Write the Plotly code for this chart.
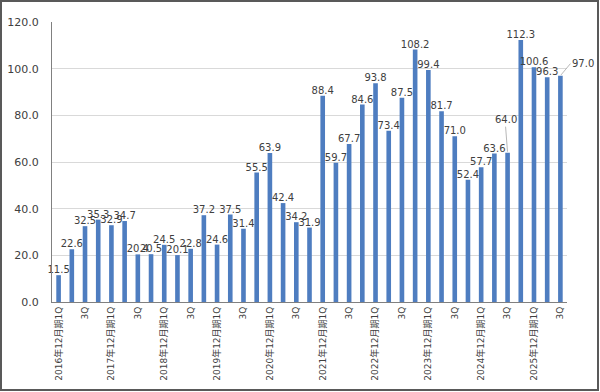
import plotly.graph_objects as go

years = [2016, 2017, 2018, 2019, 2020, 2021, 2022, 2023, 2024, 2025]
quarters = ["1Q", "2Q", "3Q", "4Q"]
values = [11.5, 22.6, 32.5, 35.3,
          32.9, 34.7, 20.4, 20.5,
          24.5, 20.1, 22.8, 37.2,
          24.6, 37.5, 31.4, 55.5,
          63.9, 42.4, 34.2, 31.9,
          88.4, 59.7, 67.7, 84.6,
          93.8, 73.4, 87.5, 108.2,
          99.4, 81.7, 71.0, 52.4,
          57.7, 63.6, 64.0, 112.3,
          100.6, 96.3, 97.0]

categories = []
tick_text = []
for y in years:
    for q in quarters:
        categories.append(f"{y}年12月期{q}")
        if q == "1Q":
            tick_text.append(f"{y}年12月期1Q")
        elif q == "3Q":
            tick_text.append("3Q")
        else:
            tick_text.append("")
categories = categories[:len(values)]
tick_text = tick_text[:len(values)]

# labels drawn with a leader line (index -> pixel offset of the label)
leader_labels = {34: (-2, -26), 38: (10, -12)}

labels = [("" if i in leader_labels else f"{v:.1f}") for i, v in enumerate(values)]

fig = go.Figure(go.Bar(
    x=categories, y=values,
    marker=dict(color="#4E7DC0", line=dict(width=0)),
    text=labels,
    textposition="outside",
    constraintext="none",
    textfont=dict(family="DejaVu Sans", size=10, color="#404040"),
    cliponaxis=False,
))

annotations = []
for i, (dx, dy) in leader_labels.items():
    annotations.append(dict(
        x=categories[i], y=values[i], xref="x", yref="y",
        text=f"{values[i]:.1f}", showarrow=True, arrowhead=0, arrowwidth=0.8,
        arrowcolor="#A6A6A6", ax=dx, ay=dy, standoff=1,
        xanchor="left" if dx > 0 else "center",
        yanchor="bottom" if dx <= 0 else "middle",
        font=dict(family="DejaVu Sans", size=10, color="#404040"),
    ))

fig.update_layout(
    width=600, height=392,
    margin=dict(l=52, r=33, t=22, b=90, autoexpand=False),
    paper_bgcolor="white", plot_bgcolor="white",
    bargap=0.65,
    showlegend=False,
    font=dict(family="DejaVu Sans, Noto Sans CJK JP", color="#404040"),
    xaxis=dict(
        tickmode="array", tickvals=categories, ticktext=tick_text,
        range=[-0.5, len(values) - 0.5],
        tickangle=-90, tickfont=dict(size=9, family="DejaVu Sans, Noto Sans CJK JP", color="#404040"),
        showline=True, linecolor="#808080", linewidth=1, showgrid=False,
        ticks="", automargin=False,
    ),
    yaxis=dict(
        range=[0, 120], dtick=20, tickformat=".1f",
        tickfont=dict(size=11, color="#404040"),
        showgrid=True, gridcolor="#D9D9D9", gridwidth=1,
        showline=True, linecolor="#808080", linewidth=1,
        zeroline=False, ticks="", ticklabelstandoff=10, automargin=False,
    ),
    annotations=annotations,
    shapes=[dict(type="rect", xref="paper", yref="paper",
                 x0=-51/515, x1=1 + 31/515, y0=-88/280, y1=1 + 21/280,
                 line=dict(color="#595959", width=2), fillcolor="rgba(0,0,0,0)")],
)

fig.write_html("out.html", config={"displayModeBar": False},
               post_script="document.body.style.margin='0';document.body.style.padding='0';")
